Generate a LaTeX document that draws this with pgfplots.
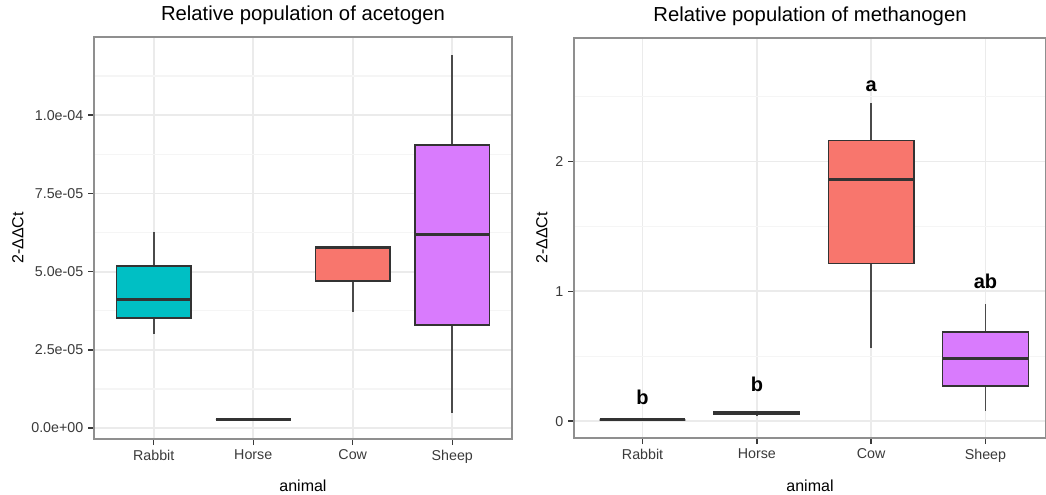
\documentclass[border=0pt]{standalone}
\usepackage{pgfplots}
\pgfplotsset{compat=1.18}
\usepgfplotslibrary{statistics}
\usepackage{fontspec}
\setmainfont{Liberation Sans}
\definecolor{cowc}{HTML}{F8766D}
\definecolor{rabc}{HTML}{00BFC4}
\definecolor{shec}{HTML}{D97BFD}
\definecolor{gridmaj}{HTML}{EBEBEB}
\definecolor{gridmin}{HTML}{F5F5F5}
\definecolor{framec}{HTML}{8F8F8F}
\definecolor{tickc}{HTML}{3A3A3A}
\definecolor{boxc}{HTML}{333333}
\definecolor{whc}{HTML}{4A4A4A}

\pgfplotsset{
 ggbox/.style={
  scale only axis,
  axis line style={framec, line width=1.2pt},
  tick align=outside,
  xtick pos=bottom, ytick pos=left,
  major tick length=4.5pt,
  minor tick length=0pt,
  tick style={tickc, line width=1.1pt},
  xmajorgrids, ymajorgrids, yminorgrids,
  major grid style={gridmaj, line width=1.3pt},
  minor grid style={gridmin, line width=1pt},
  xtick={1,2,3,4},
  xticklabels={Rabbit,Horse,Cow,Sheep},
  xmin=0.4,
  scaled y ticks=false,
  ticklabel style={font=\fontsize{10.7}{12}\selectfont, text=tickc},
  label style={font=\fontsize{12}{14}\selectfont},
  title style={font=\fontsize{15.2}{18}\selectfont},
  xlabel={animal},
  ylabel={2-ΔΔCt},
  boxplot/draw direction=y,
  boxplot/box extend=0.75,
  boxplot/whisker extend=0,
  boxplot/every box/.style={draw=boxc, line width=1.1pt},
  boxplot/every whisker/.style={draw=whc, line width=1.4pt},
  boxplot/every median/.style={draw=boxc, line width=2.2pt},
 }
}

\begin{document}
\begin{tikzpicture}
\path[use as bounding box] (0pt,0pt) rectangle (784.5pt,-370.5pt);

% Left panel: acetogen
\begin{axis}[ggbox,
  at={(70.5pt,-27.75pt)}, anchor=north west,
  width=313.5pt, height=301.5pt,
  xmax=4.6,
  ymin=-0.35e-5, ymax=12.5e-5,
  ytick={0,2.5e-5,5e-5,7.5e-5,1e-4},
  yticklabels={0.0e+00,2.5e-05,5.0e-05,7.5e-05,1.0e-04},
  minor ytick={1.25e-5,3.75e-5,6.25e-5,8.75e-5,11.25e-5},
  title={Relative population of acetogen},
  y label style={at={(axis description cs:-0.182,0.5)}, anchor=center},
  x label style={at={(axis description cs:0.5,-0.117)}, anchor=center, inner sep=0pt},
]
\addplot[boxplot prepared={lower whisker=3.0e-5, lower quartile=3.52e-5, median=4.12e-5, upper quartile=5.18e-5, upper whisker=6.27e-5, draw position=1}, fill=rabc, draw=boxc] coordinates {};
\addplot[boxplot prepared={lower whisker=0.28e-5, lower quartile=0.28e-5, median=0.28e-5, upper quartile=0.28e-5, upper whisker=0.28e-5, draw position=2}, fill=white, draw=boxc] coordinates {};
\addplot[boxplot prepared={lower whisker=3.71e-5, lower quartile=4.70e-5, median=5.76e-5, upper quartile=5.79e-5, upper whisker=5.79e-5, draw position=3}, fill=cowc, draw=boxc] coordinates {};
\addplot[boxplot prepared={lower whisker=0.48e-5, lower quartile=3.29e-5, median=6.2e-5, upper quartile=9.05e-5, upper whisker=11.92e-5, draw position=4}, fill=shec, draw=boxc] coordinates {};
\end{axis}

% Right panel: methanogen
\begin{axis}[ggbox,
  at={(430.5pt,-28.5pt)}, anchor=north west,
  width=354pt, height=300pt,
  xmax=4.53,
  ymin=-0.13, ymax=2.95,
  ytick={0,1,2},
  yticklabels={0,1,2},
  minor ytick={0.5,1.5,2.5},
  title={Relative population of methanogen},
  y label style={at={(axis description cs:-0.068,0.5)}, anchor=center},
  x label style={at={(axis description cs:0.5,-0.12)}, anchor=center, inner sep=0pt},
]
\addplot[boxplot prepared={lower whisker=0.01, lower quartile=0.01, median=0.01, upper quartile=0.01, upper whisker=0.01, draw position=1}, fill=white, draw=boxc] coordinates {};
\addplot[boxplot prepared={lower whisker=0.045, lower quartile=0.05, median=0.06, upper quartile=0.07, upper whisker=0.08, draw position=2}, fill=white, draw=boxc] coordinates {};
\addplot[boxplot prepared={lower whisker=0.56, lower quartile=1.215, median=1.86, upper quartile=2.16, upper whisker=2.45, draw position=3}, fill=cowc, draw=boxc] coordinates {};
\addplot[boxplot prepared={lower whisker=0.08, lower quartile=0.27, median=0.48, upper quartile=0.685, upper whisker=0.90, draw position=4}, fill=shec, draw=boxc] coordinates {};
\addplot[draw=none, mark=none, nodes near coords, point meta=explicit symbolic,
  nodes near coords style={font=\bfseries\fontsize{15}{17}\selectfont, anchor=center, text=black}]
  table[meta=lab, row sep=\\] {x y lab\\ 1 0.18 b\\ 2 0.28 b\\ 3 2.58 a\\ 4 1.08 ab\\};
\end{axis}
\end{tikzpicture}
\end{document}
